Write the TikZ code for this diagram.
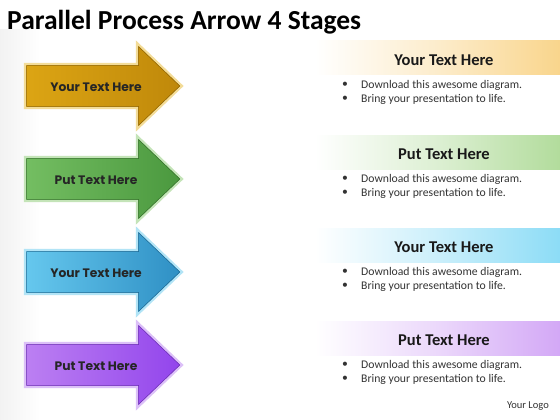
\documentclass[tikz,border=0pt]{standalone}
\usepackage{fontspec}
\setmainfont{Carlito}
\newfontfamily\arrowfont{Poppins}
\definecolor{goldL}{HTML}{DCA514}
\definecolor{goldR}{HTML}{BF880A}
\definecolor{goldB}{HTML}{F3DC98}
\definecolor{greenL}{HTML}{74BE62}
\definecolor{greenR}{HTML}{4A983E}
\definecolor{greenB}{HTML}{C4E4B8}
\definecolor{blueL}{HTML}{66C8EE}
\definecolor{blueR}{HTML}{2E8FC4}
\definecolor{blueB}{HTML}{B2E4F6}
\definecolor{purpL}{HTML}{BC80F2}
\definecolor{purpR}{HTML}{9244EC}
\definecolor{purpB}{HTML}{DCC0F8}
\definecolor{bandG}{HTML}{F9D58C}
\definecolor{bandGr}{HTML}{B2DC9C}
\definecolor{bandB}{HTML}{8CDCF6}
\definecolor{bandP}{HTML}{D3A8F6}
\begin{document}
\begin{tikzpicture}[x=1pt,y=-1pt,
  titlestyle/.style={font=\fontsize{27.5}{32}\selectfont\bfseries, anchor=west, inner sep=0pt, text=black},
  headstyle/.style={font=\fontsize{16.5}{19}\selectfont\bfseries, inner sep=0pt, text=black!90},
  bulletstyle/.style={font=\fontsize{11.7}{14}\selectfont, anchor=west, inner sep=0pt, text=black!80},
  arrowtext/.style={font=\arrowfont\fontsize{12.3}{14}\selectfont\bfseries, inner sep=0pt, text=black!85},
  logostyle/.style={font=\fontsize{10.5}{12}\selectfont, anchor=east, inner sep=0pt, text=black!80}]
\useasboundingbox (0,0) rectangle (560,420);
\fill[white] (0,0) rectangle (560,420);
\shade[left color=black!5, right color=white] (0,30) rectangle (40,420);

\node[titlestyle] (title) at (7,22) {Parallel Process Arrow 4 Stages};

% arrow macro: #1 center y, #2 left color, #3 right color, #4 border, #5 name, #6 label
\newcommand{\StageArrow}[6]{%
  \path[left color=#2, right color=#3, draw=#4, line width=2.2pt, line join=miter]
    (25,#1-22) -- (137,#1-22) -- (137,#1-43) -- (182,#1) -- (137,#1+43) -- (137,#1+22) -- (25,#1+22) -- cycle;
  \draw[#3!75!black, line width=0.5pt]
    (26.6,#1-20.4) -- (138.6,#1-20.4) -- (138.6,#1-39.3) -- (179.8,#1) -- (138.6,#1+39.3) -- (138.6,#1+20.4) -- (26.6,#1+20.4) -- cycle;
  \node[arrowtext] (#5) at (96,#1+1) {#6};
}
\newcommand{\StagePanel}[4]{% band top, color, name, header text
  \shade[left color=white, right color=#2, middle color=#2!45!white] (315,#1) rectangle (560,#1+34);
  \node[headstyle] (#3h) at (444,#1+19) {#4};
  \node[bulletstyle] (#3b1) at (342,#1+44) {•};
  \node[bulletstyle] (#3t1) at (361,#1+44) {Download this awesome diagram.};
  \node[bulletstyle] (#3b2) at (342,#1+58) {•};
  \node[bulletstyle] (#3t2) at (361,#1+58) {Bring your presentation to life.};
}

\StageArrow{86}{goldL}{goldR}{goldB}{a1}{Your Text Here}
\StageArrow{179}{greenL}{greenR}{greenB}{a2}{Put Text Here}
\StageArrow{272}{blueL}{blueR}{blueB}{a3}{Your Text Here}
\StageArrow{365}{purpL}{purpR}{purpB}{a4}{Put Text Here}

\StagePanel{41}{bandG}{p1}{Your Text Here}
\StagePanel{135}{bandGr}{p2}{Put Text Here}
\StagePanel{228}{bandB}{p3}{Your Text Here}
\StagePanel{321}{bandP}{p4}{Put Text Here}

\node[logostyle] (logo) at (549,406) {Your Logo};
\end{tikzpicture}
\end{document}
